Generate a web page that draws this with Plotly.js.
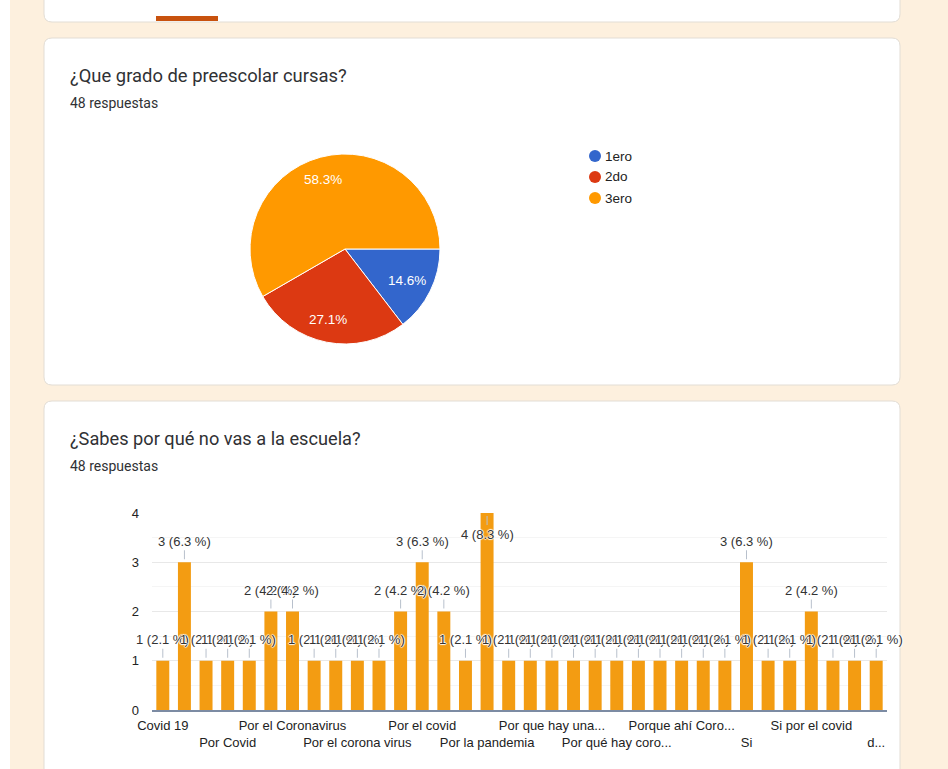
<!DOCTYPE html>
<html>
<head>
<meta charset="utf-8">
<script src="https://cdn.plot.ly/plotly-3.0.1.min.js"></script>
<style>html,body{margin:0;padding:0;background:#fdf0de;}#chart{width:948px;height:769px;}</style>
</head>
<body>
<div id="chart"></div>
<script>
// ---------- data ----------
const pieTitle = "¿Que grado de preescolar cursas?";
const barTitle = "¿Sabes por qué no vas a la escuela?";
const responsesText = "48 respuestas";

const gradeLabels = ["1ero", "2do", "3ero"];
const gradeCounts = [7, 13, 28];
const gradeColors = ["#3366cc", "#dc3912", "#ff9900"];

const reasonCategories = [
  "Covid 19", "Por coronavirus", "Por covid 19", "Por Covid", "Por el coronabirus",
  "Por el corona", "Por el Coronavirus", "Por el coronavirus 19", "Por el corona virus 19", "Por el corona virus",
  "Por el covid 19", "Por el virus", "Por el covid", "Por la enfermedad", "Por la cuarentena",
  "Por la pandemia", "Por la pandemia del covid", "Por los contagios", "Por que hay una pandemia", "Por que hay virus",
  "Por que hay covid", "Por qué hay coronavirus", "Por qué hay covid", "Porque ay coronavirus", "Porque ahí Coronavirus",
  "Porque hay covid", "Porque hay un virus", "Si", "Si por el coronavirus", "Si, por el virus",
  "Si por el covid", "Si, por la pandemia", "Sí por el covid", "del covid que hay"
];
const reasonCounts = [
  1, 3, 1, 1, 1, 2, 2, 1, 1, 1,
  1, 2, 3, 2, 1, 4, 1, 1, 1, 1,
  1, 1, 1, 1, 1, 1, 1, 3, 1, 1,
  2, 1, 1, 1
];
const totalResponses = 48;
const tickIndices = [0, 3, 6, 9, 12, 15, 18, 21, 24, 27, 30, 33];
const tickLabels = [
  "Covid 19", "Por Covid", "Por el Coronavirus", "Por el corona virus", "Por el covid", "Por la pandemia",
  "Por que hay una...", "Por qué hay coro...", "Porque ahí Coro...", "Si", "Si por el covid", "d..."
];
const yTicks = [0, 1, 2, 3, 4];
const yMax = 4;

// ---------- helpers ----------
const W = 948, H = 769;
const X = px => px / W;
const Y = py => 1 - py / H;
function rr(x0, y0, x1, y1, r) {
  return `M${X(x0 + r)},${Y(y0)} L${X(x1 - r)},${Y(y0)} Q${X(x1)},${Y(y0)} ${X(x1)},${Y(y0 + r)} ` +
         `L${X(x1)},${Y(y1 - r)} Q${X(x1)},${Y(y1)} ${X(x1 - r)},${Y(y1)} ` +
         `L${X(x0 + r)},${Y(y1)} Q${X(x0)},${Y(y1)} ${X(x0)},${Y(y1 - r)} ` +
         `L${X(x0)},${Y(y0 + r)} Q${X(x0)},${Y(y0)} ${X(x0 + r)},${Y(y0)} Z`;
}
const FONT = "Liberation Sans, Arial, sans-serif";
const TFONT = "Roboto, Open Sans, sans-serif";

// pie geometry (layout)
const pieBox = {x0: 250, x1: 440, y0: 153, y1: 345};
const pieCx = (pieBox.x0 + pieBox.x1) / 2, pieCy = (pieBox.y0 + pieBox.y1) / 2;
const pieR = (pieBox.x1 - pieBox.x0) / 2;

// ---------- traces ----------
const pie = {
  type: "pie",
  labels: gradeLabels,
  values: gradeCounts,
  marker: {colors: gradeColors, line: {color: "#ffffff", width: 1}},
  sort: false,
  direction: "clockwise",
  rotation: 90,
  textinfo: "none",
  domain: {x: [X(pieBox.x0), X(pieBox.x1)], y: [Y(pieBox.y1), Y(pieBox.y0)]},
  showlegend: false,
  hoverinfo: "label+percent"
};

const bars = {
  type: "bar",
  x: reasonCategories,
  y: reasonCounts,
  marker: {color: "#f39c12"},
  xaxis: "x",
  yaxis: "y",
  showlegend: false,
  hoverinfo: "x+y"
};

// ---------- annotations ----------
const annotations = [
  {text: pieTitle, xref: "paper", yref: "paper", x: X(68), y: Y(75), xanchor: "left", yanchor: "middle",
   showarrow: false, font: {family: TFONT, size: 18.4, color: "#303134"}},
  {text: responsesText, xref: "paper", yref: "paper", x: X(68), y: Y(103), xanchor: "left", yanchor: "middle",
   showarrow: false, font: {family: TFONT, size: 14, color: "#303134"}},
  {text: barTitle, xref: "paper", yref: "paper", x: X(68), y: Y(438), xanchor: "left", yanchor: "middle",
   showarrow: false, font: {family: TFONT, size: 18.2, color: "#303134"}},
  {text: responsesText, xref: "paper", yref: "paper", x: X(68), y: Y(466), xanchor: "left", yanchor: "middle",
   showarrow: false, font: {family: TFONT, size: 14, color: "#303134"}}
];
const legendY = [156, 177, 198];
gradeLabels.forEach((lab, i) => {
  annotations.push({text: lab, xref: "paper", yref: "paper", x: X(603), y: Y(legendY[i]), xanchor: "left", yanchor: "middle",
    showarrow: false, font: {family: FONT, size: 13.5, color: "#222222"}});
});
// pie percentage labels, placed along each slice's mid-angle
const gradeTotal = gradeCounts.reduce((a, b) => a + b, 0);
let cum = 0;
gradeCounts.forEach((v, i) => {
  const mid = (cum + v / 2) / gradeTotal;
  cum += v;
  const th = mid * 2 * Math.PI;
  const px = pieCx - 3 + pieR * 0.76 * Math.cos(th);
  const py = pieCy + pieR * 0.76 * Math.sin(th);
  annotations.push({text: (v / gradeTotal * 100).toFixed(1) + "%", xref: "paper", yref: "paper",
    x: X(px), y: Y(py), xanchor: "center", yanchor: "middle", showarrow: false,
    font: {family: FONT, size: 13.5, color: "#ffffff"}});
});
const halo = "1px 0 1px #fff, -1px 0 1px #fff, 0 1px 1px #fff, 0 -1px 1px #fff";
reasonCategories.forEach((c, i) => {
  const v = reasonCounts[i];
  const pct = (v / totalResponses * 100).toFixed(1);
  annotations.push({
    x: c, y: v, xref: "x", yref: "y",
    text: `${v} (${pct} %)`,
    showarrow: true, arrowhead: 0, arrowwidth: 1, arrowcolor: "#b8c0cc",
    ax: 0, ay: v >= yMax ? 21 : -21, standoff: 3,
    font: {family: FONT, size: 13, color: "#333333", shadow: halo}
  });
});

// ---------- shapes ----------
const shapes = [
  {type: "rect", xref: "paper", yref: "paper", x0: 0, x1: X(10), y0: 0, y1: 1, fillcolor: "#ffffff", line: {width: 0}, layer: "below"},
  {type: "path", xref: "paper", yref: "paper", path: rr(44, -20, 900, 22, 8), fillcolor: "#ffffff", line: {color: "#e2ddd5", width: 1}, layer: "below"},
  {type: "rect", xref: "paper", yref: "paper", x0: X(156), x1: X(218), y0: Y(21), y1: Y(16), fillcolor: "#c8520e", line: {width: 0}, layer: "below"},
  {type: "path", xref: "paper", yref: "paper", path: rr(44, 38, 900, 385, 8), fillcolor: "#ffffff", line: {color: "#e2ddd5", width: 1}, layer: "below"},
  {type: "path", xref: "paper", yref: "paper", path: rr(44, 401, 900, 790, 8), fillcolor: "#ffffff", line: {color: "#e2ddd5", width: 1}, layer: "below"}
];
gradeColors.forEach((col, i) => {
  shapes.push({type: "circle", xref: "paper", yref: "paper",
    x0: X(589), x1: X(601), y0: Y(legendY[i] + 6), y1: Y(legendY[i] - 6),
    fillcolor: col, line: {width: 0}});
});

// ---------- layout ----------
const layout = {
  width: W, height: H,
  margin: {l: 0, r: 0, t: 0, b: 0},
  paper_bgcolor: "#fdf0de",
  plot_bgcolor: "rgba(0,0,0,0)",
  font: {family: FONT, size: 12, color: "#222222"},
  bargap: 0.4,
  xaxis: {
    domain: [X(152), X(887)],
    type: "category",
    range: [-0.5, reasonCategories.length - 0.5],
    autorange: false,
    tickmode: "array",
    tickvals: tickIndices.map(i => reasonCategories[i]),
    ticktext: tickLabels.map((t, k) => (k % 2 === 1 ? "<br>" : "") + t),
    tickangle: 0,
    ticks: "",
    ticklabelstandoff: 2,
    showline: true, linecolor: "#7c8ba3", linewidth: 2,
    showgrid: false, zeroline: false,
    tickfont: {family: FONT, size: 13, color: "#222222"},
    automargin: false,
    fixedrange: true
  },
  yaxis: {
    domain: [Y(710), Y(513)],
    range: [0, yMax],
    autorange: false,
    tickmode: "array",
    tickvals: yTicks,
    ticks: "",
    ticklabelstandoff: 12,
    showgrid: true, gridcolor: "#e8e8e8",
    minor: {dtick: 0.5, showgrid: true, gridcolor: "#f5f5f5"},
    zeroline: false,
    tickfont: {family: FONT, size: 13, color: "#222222"},
    automargin: false,
    fixedrange: true
  },
  shapes: shapes,
  annotations: annotations,
  showlegend: false
};

Plotly.newPlot("chart", [pie, bars], layout, {displayModeBar: false, staticPlot: true});
</script>
</body>
</html>
